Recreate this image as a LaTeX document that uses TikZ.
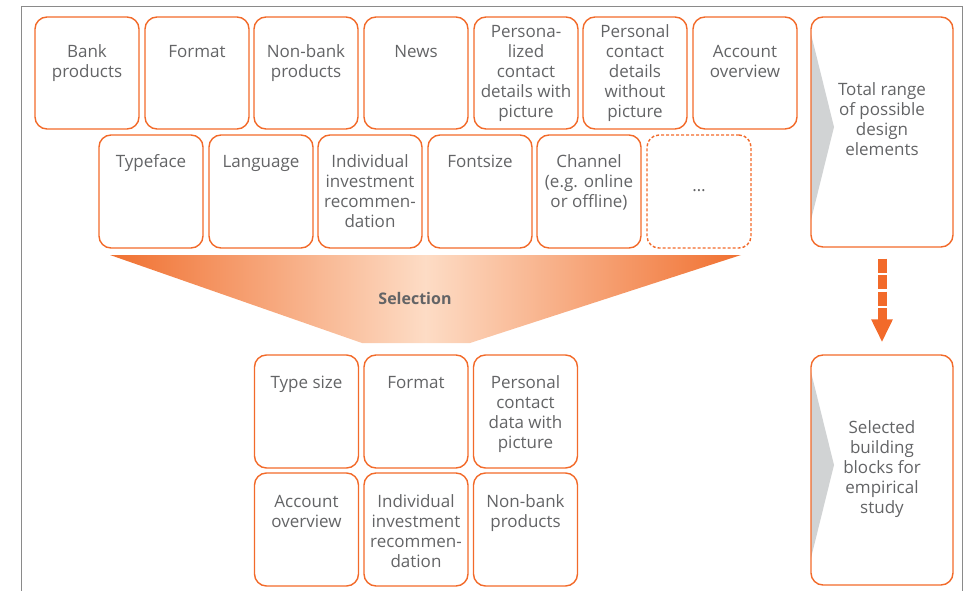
\documentclass[tikz,border=0pt]{standalone}
\usepackage{fontspec}
\setmainfont{Open Sans}
\usetikzlibrary{arrows.meta}
\definecolor{org}{HTML}{F26A2A}
\definecolor{orgdeep}{HTML}{F07030}
\definecolor{txtgray}{HTML}{636466}
\definecolor{peach}{HTML}{FDDCC5}
\definecolor{chev}{HTML}{D1D3D4}
\definecolor{framegray}{HTML}{8A8A8A}
\begin{document}
\begin{tikzpicture}[x=1pt,y=-1pt,
  box/.style={draw=org, line width=1.4pt, rounded corners=12pt, minimum width=104pt, minimum height=112pt, inner sep=0pt},
  dbox/.style={box, dash pattern=on 3pt off 2pt},
  bigbox/.style={box, minimum width=142pt, minimum height=230pt},
  txt/.style={anchor=north, inner sep=0pt, align=center, text=txtgray, font=\fontsize{17}{20}\selectfont},
  seltxt/.style={inner sep=0pt, text=txtgray, font=\fontsize{16}{19}\selectfont\bfseries},
  chevron/.style={fill=chev, draw=none},
  bigarrow/.style={draw=org, line width=9pt, dash pattern=on 14pt off 2.5pt, -{Triangle[length=23pt,width=20pt]}, shorten <=11pt, shorten >=12pt},
]
\useasboundingbox (0,0) rectangle (967,591);
% outer frame (open at the bottom)
\draw[framegray, line width=0.8pt] (21,591) -- (21,6) -- (962,6) -- (962,591);

% funnel
\coordinate (f1) at (110,255);
\coordinate (f2) at (741,255);
\coordinate (f3) at (470,343);
\coordinate (f4) at (362,343);
\shade[left color=orgdeep, right color=orgdeep, middle color=peach] (f1) -- (f2) -- (f3) -- (f4) -- cycle;
\node[seltxt] (sel) at (415,298) {Selection};

% top row
\node[box] (a1) at (87,73) {};
\node[box] (a2) at (197,73) {};
\node[box] (a3) at (306,73) {};
\node[box] (a4) at (416,73) {};
\node[box] (a5) at (526,73) {};
\node[box] (a6) at (635,73) {};
\node[box] (a7) at (745,73) {};
\node[txt] (ta1) at (87,43) {\strut Bank\\products};
\node[txt] (ta2) at (197,43) {\strut Format};
\node[txt] (ta3) at (306,43) {\strut Non-bank\\products};
\node[txt] (ta4) at (416,43) {\strut News};
\node[txt] (ta5) at (526,23) {\strut Persona-\\lized\\contact\\details with\\picture};
\node[txt] (ta6) at (635,23) {\strut Personal\\contact\\details\\without\\picture};
\node[txt] (ta7) at (745,43) {\strut Account\\overview};

% second row
\node[box, minimum height=113pt] (b1) at (151,191.5) {};
\node[box, minimum height=113pt] (b2) at (261,191.5) {};
\node[box, minimum height=113pt] (b3) at (370,191.5) {};
\node[box, minimum height=113pt] (b4) at (480,191.5) {};
\node[box, minimum height=113pt] (b5) at (589,191.5) {};
\node[dbox, minimum height=113pt] (b6) at (699,191.5) {};
\node[txt] (tb1) at (151,153) {\strut Typeface};
\node[txt] (tb2) at (261,153) {\strut Language};
\node[txt] (tb3) at (370,153) {\strut Individual\\investment\\recommen-\\dation};
\node[txt] (tb4) at (480,153) {\strut Fontsize};
\node[txt] (tb5) at (589,153) {\strut Channel\\(e.g. online\\or offline)};
\node[txt] (tb6) at (699,177) {\strut \ldots};

% selected blocks
\node[box, minimum height=113pt] (c1) at (306.5,411.5) {};
\node[box, minimum height=113pt] (c2) at (416,411.5) {};
\node[box, minimum height=113pt] (c3) at (525.5,411.5) {};
\node[box, minimum height=113pt] (d1) at (306.5,529.5) {};
\node[box, minimum height=113pt] (d2) at (416,529.5) {};
\node[box, minimum height=113pt] (d3) at (525.5,529.5) {};
\node[txt] (tc1) at (306.5,374) {\strut Type size};
\node[txt] (tc2) at (416,374) {\strut Format};
\node[txt] (tc3) at (525.5,374) {\strut Personal\\contact\\data with\\picture};
\node[txt] (td1) at (306.5,493) {\strut Account\\overview};
\node[txt] (td2) at (416,493) {\strut Individual\\investment\\recommen-\\dation};
\node[txt] (td3) at (525.5,493) {\strut Non-bank\\products};

% right column
\fill[chevron] (811,34) -- (834,127) -- (811,220) -- cycle;
\fill[chevron] (811,372) -- (834,465) -- (811,558) -- cycle;
\node[bigbox] (r1) at (882,132) {};
\node[bigbox] (r2) at (882,470) {};
\node[txt] (tr1) at (882,81) {\strut Total range\\of possible\\design\\elements};
\node[txt] (tr2) at (882,419) {\strut Selected\\building\\blocks for\\empirical\\study};
\draw[bigarrow] (r1.south) -- (r2.north);
\end{tikzpicture}
\end{document}
